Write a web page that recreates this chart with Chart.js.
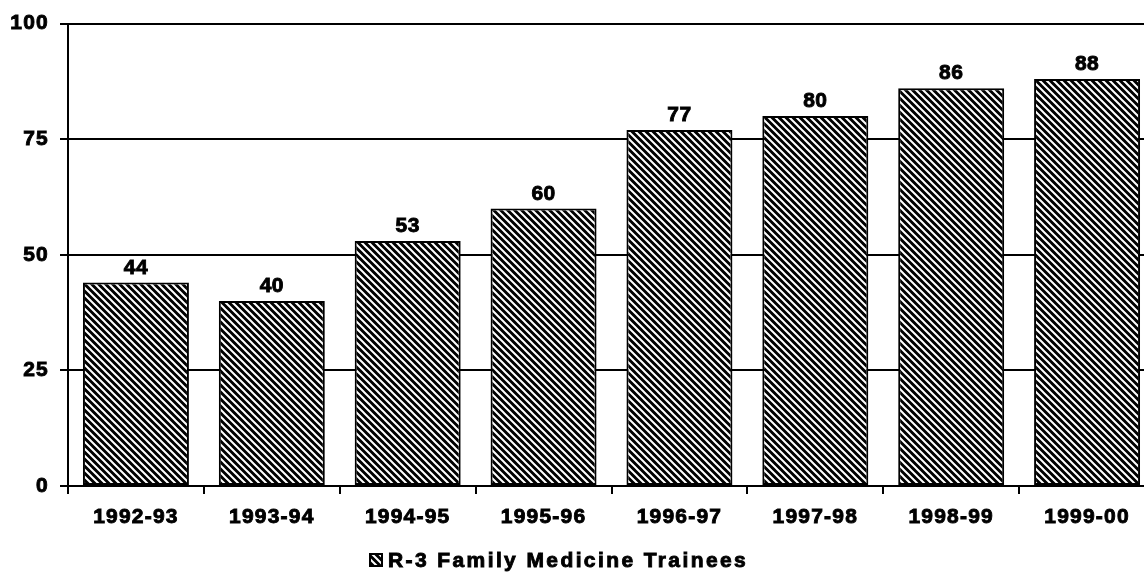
<!DOCTYPE html>
<html><head><meta charset="utf-8">
<script src="https://cdn.jsdelivr.net/npm/chart.js@4"></script>
<style>
html,body{margin:0;padding:0;overflow:hidden;background:#fff;width:1144px;height:574px}
#wrap{position:absolute;left:0;top:0;width:1156px;height:574px}
</style>
</head><body>
<div id="wrap"><canvas id="c" width="1156" height="574"></canvas></div>
<script>
const categories = ['1992-93','1993-94','1994-95','1995-96','1996-97','1997-98','1998-99','1999-00'];
const traineeCounts = [44, 40, 53, 60, 77, 80, 86, 88];
const yTickValues = [0, 25, 50, 75, 100];
const seriesLabel = 'R-3 Family Medicine Trainees';

const FONT = "'Liberation Sans', Arial, sans-serif";
const canvas = document.getElementById('c');
const ctx = canvas.getContext('2d');

function makeHatch(){
  const s = 7;
  const t = document.createElement('canvas');
  t.width = s; t.height = s;
  const g = t.getContext('2d');
  g.fillStyle = '#000'; g.fillRect(0,0,s,s);
  g.strokeStyle = '#fff'; g.lineWidth = 2;
  g.beginPath();
  g.moveTo(-2,-2); g.lineTo(s+2,s+2);
  g.moveTo(-3,s-3); g.lineTo(3,s+3);
  g.moveTo(s-3,-3); g.lineTo(s+3,3);
  g.stroke();
  return ctx.createPattern(t,'repeat');
}
const hatch = makeHatch();

const spacingPlugin = {
  id:'spacing',
  beforeDraw(chart){ chart.ctx.letterSpacing = '1.2px'; }
};

function boldText(c, txt, x, y){
  c.lineWidth = 0.9;
  c.strokeStyle = '#000';
  c.strokeText(txt, x, y);
  c.fillText(txt, x, y);
}

const valueLabels = {
  id:'valueLabels',
  afterDatasetsDraw(chart){
    const c = chart.ctx;
    const meta = chart.getDatasetMeta(0);
    c.save();
    c.letterSpacing = '0.5px';
    c.font = 'bold 21px ' + FONT;
    c.fillStyle = '#000';
    c.textAlign = 'center';
    c.textBaseline = 'alphabetic';
    meta.data.forEach((bar, i) => {
      boldText(c, String(chart.data.datasets[0].data[i]), bar.x, bar.y - 9);
    });
    c.restore();
  }
};

const legendPlugin = {
  id:'customLegend',
  afterDraw(chart){
    const c = chart.ctx;
    c.save();
    const bx = 370, by = 554, bs = 12;
    c.fillStyle = hatch;
    c.fillRect(bx, by, bs, bs);
    c.strokeStyle = '#000'; c.lineWidth = 2;
    c.strokeRect(bx, by, bs, bs);
    c.font = 'bold 21px ' + FONT;
    c.letterSpacing = '2.4px';
    c.fillStyle = '#000';
    c.textAlign = 'left';
    c.textBaseline = 'middle';
    boldText(c, chart.data.datasets[0].label, 388, by + bs/2 + 1);
    c.restore();
  }
};

new Chart(ctx, {
  type:'bar',
  data:{
    labels: categories,
    datasets:[{
      label: seriesLabel,
      data: traineeCounts,
      backgroundColor: hatch,
      borderColor:'#000',
      borderWidth:2,
      borderSkipped:false,
      categoryPercentage:1,
      barPercentage:0.78
    }]
  },
  options:{
    responsive:false,
    animation:false,
    events:[],
    layout:{padding:{top:22,right:1,bottom:38,left:0}},
    plugins:{legend:{display:false},tooltip:{enabled:false}},
    scales:{
      x:{
        offset:true,
        grid:{display:true, offset:true, drawOnChartArea:false, drawTicks:true, tickLength:8, color:'#000', lineWidth:2},
        border:{display:true, color:'#000', width:2},
        ticks:{color:'#000', font:{family:FONT, size:21, weight:'bold'}, padding:11, maxRotation:0, autoSkip:false,
               textStrokeColor:'#000', textStrokeWidth:0.9},
        afterFit(scale){ scale.height = 50; }
      },
      y:{
        min:0, max:100,
        afterBuildTicks(scale){ scale.ticks = yTickValues.map(v => ({value:v})); },
        grid:{color:'#000', lineWidth:2, tickLength:8, drawTicks:true},
        border:{display:true, color:'#000', width:2},
        ticks:{color:'#000', font:{family:FONT, size:21, weight:'bold'}, padding:11,
               textStrokeColor:'#000', textStrokeWidth:0.9},
        afterFit(scale){ scale.width = 68; }
      }
    }
  },
  plugins:[spacingPlugin, valueLabels, legendPlugin]
});
</script>
</body></html>
